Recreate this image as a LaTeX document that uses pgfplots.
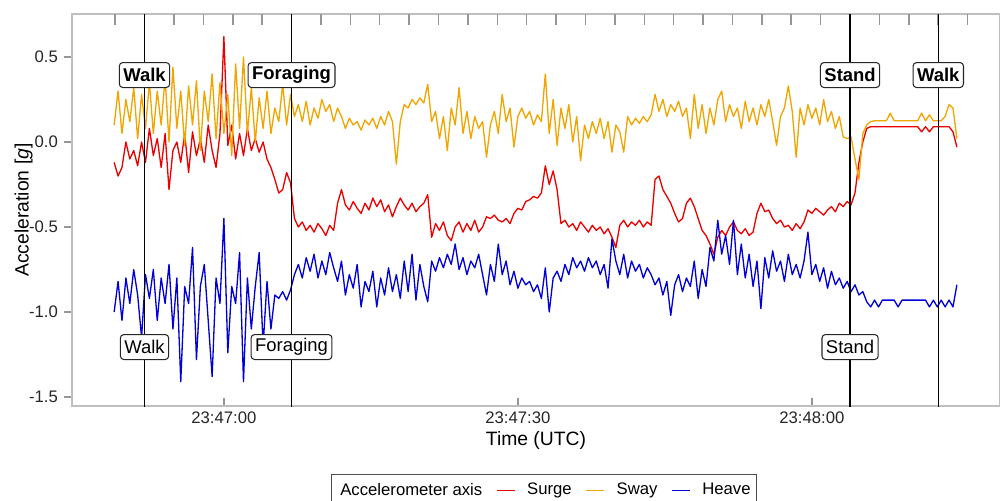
\documentclass[border=0pt]{standalone}
\usepackage{fontspec}
\setmainfont{Liberation Sans}
\usepackage{pgfplots}
\usepackage{pgfplotstable}
\pgfplotsset{compat=1.18}
\definecolor{surge}{RGB}{235,0,0}
\definecolor{sway}{RGB}{240,165,0}
\definecolor{heave}{RGB}{0,0,215}
\definecolor{tickgray}{RGB}{150,150,150}

% time in s after 23:47:00, acceleration in g
\pgfplotstableread{
t surge sway heave
-11.2 -0.12 0.10 -1.00
-10.8 -0.20 0.30 -0.82
-10.4 -0.15 0.05 -1.05
-10.0 0.00 0.25 -0.80
-9.6 -0.10 0.12 -0.95
-9.2 -0.05 0.32 -0.75
-8.8 -0.14 0.02 -0.90
-8.4 0.00 0.28 -1.15
-8.0 -0.12 0.08 -0.78
-7.6 0.08 0.35 -0.92
-7.2 -0.08 0.05 -0.75
-6.8 0.02 0.30 -1.05
-6.4 -0.15 0.10 -0.80
-6.0 0.05 0.38 -0.95
-5.6 -0.28 0.00 -0.72
-5.2 -0.05 0.44 -1.10
-4.8 0.00 0.08 -0.80
-4.4 -0.12 0.30 -1.41
-4.0 0.05 -0.02 -0.85
-3.6 -0.18 0.33 -0.95
-3.2 0.06 0.10 -0.62
-2.8 -0.08 0.36 -1.28
-2.4 0.02 -0.05 -0.85
-2.0 -0.12 0.30 -0.72
-1.6 0.10 0.12 -1.05
-1.2 -0.05 0.40 -1.38
-0.8 -0.15 0.02 -0.80
-0.4 0.05 0.35 -0.95
0.0 0.62 0.05 -0.45
0.4 -0.02 0.28 -1.24
0.8 0.10 -0.08 -0.85
1.2 -0.10 0.46 -0.95
1.6 0.05 0.08 -0.65
2.0 -0.08 0.50 -1.41
2.4 0.08 0.05 -0.80
2.8 -0.05 0.32 -1.10
3.2 0.02 0.00 -0.85
3.6 -0.06 0.26 -0.65
4.0 0.00 0.08 -1.20
4.4 -0.10 0.30 -0.82
4.8 -0.15 0.05 -1.10
5.2 -0.22 0.20 -0.90
5.6 -0.30 0.12 -0.92
6.0 -0.28 0.34 -0.88
6.4 -0.18 0.10 -0.93
6.8 -0.24 0.28 -0.87
7.2 -0.45 0.15 -0.78
7.6 -0.50 0.22 -0.72
8.0 -0.47 0.12 -0.80
8.4 -0.52 0.24 -0.68
8.8 -0.49 0.10 -0.76
9.2 -0.53 0.20 -0.66
9.6 -0.48 0.14 -0.80
10.0 -0.51 0.25 -0.70
10.4 -0.55 0.18 -0.78
10.8 -0.49 0.22 -0.65
11.2 -0.52 0.12 -0.74
11.6 -0.36 0.20 -0.82
12.0 -0.28 0.15 -0.70
12.4 -0.37 0.08 -0.90
12.8 -0.40 0.14 -0.78
13.2 -0.35 0.10 -0.86
13.6 -0.39 0.12 -0.72
14.0 -0.42 0.07 -0.97
14.4 -0.36 0.13 -0.82
14.8 -0.40 0.10 -0.88
15.2 -0.33 0.14 -0.76
15.6 -0.38 0.08 -0.97
16.0 -0.34 0.15 -0.80
16.4 -0.41 0.10 -0.90
16.8 -0.37 0.18 -0.74
17.2 -0.44 0.12 -0.88
17.6 -0.38 -0.13 -0.78
18.0 -0.33 0.12 -0.92
18.4 -0.37 0.22 -0.70
18.8 -0.40 0.20 -0.88
19.2 -0.36 0.25 -0.66
19.6 -0.41 0.22 -0.93
20.0 -0.38 0.26 -0.72
20.4 -0.36 0.23 -0.85
20.8 -0.31 0.34 -0.94
21.2 -0.56 0.12 -0.70
21.6 -0.48 0.18 -0.76
22.0 -0.52 0.02 -0.68
22.4 -0.47 0.15 -0.74
22.8 -0.55 -0.05 -0.66
23.2 -0.58 0.20 -0.72
23.6 -0.50 0.10 -0.60
24.0 -0.47 0.32 -0.75
24.4 -0.53 0.05 -0.68
24.8 -0.48 0.18 -0.78
25.2 -0.52 0.02 -0.70
25.6 -0.46 0.15 -0.74
26.0 -0.53 0.08 -0.66
26.4 -0.50 0.12 -0.78
26.8 -0.44 -0.09 -0.90
27.2 -0.45 0.10 -0.72
27.6 -0.43 0.18 -0.82
28.0 -0.46 0.05 -0.60
28.4 -0.47 0.28 -0.78
28.8 -0.45 0.12 -0.70
29.2 -0.48 0.20 -0.84
29.6 -0.42 -0.03 -0.76
30.0 -0.39 0.15 -0.86
30.4 -0.40 0.20 -0.80
30.8 -0.35 0.14 -0.84
31.2 -0.34 0.18 -0.82
31.6 -0.32 0.10 -0.88
32.0 -0.33 0.16 -0.84
32.4 -0.30 0.12 -0.92
32.8 -0.14 0.40 -0.74
33.2 -0.25 0.05 -1.00
33.6 -0.17 0.25 -0.80
34.0 -0.28 -0.02 -0.76
34.4 -0.48 0.20 -0.82
34.8 -0.46 0.08 -0.72
35.2 -0.50 0.22 -0.78
35.6 -0.48 0.00 -0.68
36.0 -0.52 0.15 -0.74
36.4 -0.47 -0.11 -0.70
36.8 -0.50 0.10 -0.76
37.2 -0.53 0.02 -0.68
37.6 -0.49 0.12 -0.74
38.0 -0.52 0.05 -0.70
38.4 -0.50 0.14 -0.78
38.8 -0.54 0.02 -0.72
39.2 -0.51 0.12 -0.86
39.6 -0.56 -0.06 -0.57
40.0 -0.62 0.10 -0.70
40.4 -0.49 0.06 -0.78
40.8 -0.46 -0.06 -0.66
41.2 -0.50 0.15 -0.80
41.6 -0.47 0.10 -0.70
42.0 -0.49 0.14 -0.76
42.4 -0.46 0.11 -0.72
42.8 -0.50 0.15 -0.80
43.2 -0.47 0.12 -0.74
43.6 -0.49 0.16 -0.78
44.0 -0.22 0.28 -0.84
44.4 -0.20 0.18 -0.80
44.8 -0.28 0.25 -0.90
45.2 -0.32 0.15 -0.82
45.6 -0.36 0.22 -1.02
46.0 -0.42 0.18 -0.84
46.4 -0.47 0.24 -0.78
46.8 -0.45 0.15 -0.88
47.2 -0.36 0.20 -0.80
47.6 -0.33 0.02 -0.85
48.0 -0.38 0.28 -0.70
48.4 -0.45 0.08 -0.92
48.8 -0.52 0.22 -0.75
49.2 -0.55 0.05 -0.85
49.6 -0.60 0.20 -0.62
50.0 -0.66 0.10 -0.70
50.4 -0.56 0.25 -0.46
50.8 -0.52 0.30 -0.66
51.2 -0.55 0.12 -0.55
51.6 -0.50 0.22 -0.72
52.0 -0.47 0.15 -0.46
52.4 -0.52 0.20 -0.78
52.8 -0.54 0.08 -0.60
53.2 -0.51 0.24 -0.80
53.6 -0.55 0.12 -0.66
54.0 -0.53 0.20 -0.85
54.4 -0.42 0.10 -0.70
54.8 -0.36 0.22 -0.98
55.2 -0.41 0.15 -0.68
55.6 -0.40 0.25 -0.80
56.0 -0.45 0.12 -0.64
56.4 -0.48 -0.02 -0.76
56.8 -0.46 0.15 -0.70
57.2 -0.50 0.20 -0.82
57.6 -0.49 0.33 -0.66
58.0 -0.52 0.18 -0.78
58.4 -0.48 -0.09 -0.72
58.8 -0.51 0.20 -0.80
59.2 -0.47 0.10 -0.70
59.6 -0.40 0.22 -0.53
60.0 -0.42 0.14 -0.78
60.4 -0.39 0.20 -0.72
60.8 -0.41 0.10 -0.82
61.2 -0.43 0.25 -0.74
61.6 -0.40 0.12 -0.86
62.0 -0.38 0.18 -0.76
62.4 -0.41 0.08 -0.84
62.8 -0.36 0.15 -0.80
63.2 -0.38 0.03 -0.86
63.6 -0.35 0.02 -0.82
64.0 -0.37 0.03 -0.88
64.4 -0.30 -0.10 -0.84
64.8 -0.12 -0.22 -0.90
65.2 0.00 0.05 -0.88
65.6 0.08 0.10 -0.94
66.0 0.09 0.12 -0.97
66.4 0.09 0.125 -0.93
66.8 0.09 0.125 -0.97
67.2 0.09 0.125 -0.93
67.6 0.09 0.125 -0.93
68.0 0.09 0.17 -0.93
68.4 0.09 0.125 -0.93
68.8 0.09 0.125 -0.97
69.2 0.09 0.125 -0.93
69.6 0.09 0.125 -0.93
70.0 0.09 0.125 -0.93
70.4 0.09 0.125 -0.93
70.8 0.09 0.125 -0.93
71.2 0.06 0.17 -0.93
71.6 0.09 0.125 -0.93
72.0 0.06 0.16 -0.97
72.4 0.09 0.125 -0.93
72.8 0.09 0.125 -0.97
73.2 0.09 0.125 -0.93
73.6 0.09 0.15 -0.97
74.0 0.09 0.22 -0.93
74.4 0.06 0.20 -0.97
74.8 -0.03 0.02 -0.84
}\acc

\tikzset{
  evt/.style={draw=black!85, fill=white, rounded corners=2pt, line width=0.6pt,
    inner xsep=0.08cm, inner ysep=0pt, minimum height=0.5cm,
    font=\fontsize{10.5}{12}\selectfont},
}

\begin{document}
\begin{tikzpicture}
\begin{axis}[name=ax, scale only axis,
  width=18.56cm, height=7.84cm,
  xmin=-15.5, xmax=79.2, ymin=-1.553, ymax=0.753,
  axis line style={black!25, line width=0.6pt},
  xtick={0,30,60}, xticklabels={23:47:00,23:47:30,23:48:00},
  ytick={-1.5,-1,-0.5,0,0.5}, yticklabels={-1.5,-1.0,-0.5,0.0,0.5},
  xtick pos=left, ytick pos=left,
  xtick align=inside, ytick align=outside,
  major tick length=0.16cm,
  tick style={tickgray, line width=0.9pt},
  tick label style={font=\fontsize{9.5}{11}\selectfont, text=black!85},
  xlabel={Time (UTC)}, ylabel={Acceleration [\textit{g}]},
  label style={font=\fontsize{11}{13}\selectfont},
  xlabel style={at={(axis description cs:0.5,-0.087)}, anchor=center},
  ylabel style={at={(axis description cs:-0.052,0.5)}, anchor=center},
  legend columns=4,
  legend cell align=left,
  legend image code/.code={\draw[#1, line width=0.8pt] (0cm,0cm) -- (0.37cm,0cm); \path (0.47cm,0cm);},
  legend style={at={(axis description cs:0.5086,-0.1735)}, anchor=north,
    draw=black!70, line width=0.6pt, font=\fontsize{9.5}{11}\selectfont,
    inner xsep=0.04cm, inner ysep=0.1cm,
    /tikz/every odd column/.append style={column sep=0.06cm},
    /tikz/every even column/.append style={column sep=0.2cm}},
]
\addlegendimage{empty legend}
\addlegendentry{Accelerometer axis}
\addplot[surge, line width=0.75pt, line join=round] table[x=t, y=surge] {\acc};
\addlegendentry{Surge}
\addplot[sway, line width=0.75pt, line join=round] table[x=t, y=sway] {\acc};
\addlegendentry{Sway}
\addplot[heave, line width=0.75pt, line join=round] table[x=t, y=heave] {\acc};
\addlegendentry{Heave}

% 3 s ticks along the top edge
\pgfplotsinvokeforeach{-11.1,-8.1,-5.1,-2.1,0.9,3.9,6.9,9.9,12.9,15.9,18.9,21.9,24.9,27.9,30.9,33.9,36.9,39.9,42.9,45.9,48.9,51.9,54.9,57.9,60.9,63.9,66.9,69.9,72.9,75.9}{
  \draw[tickgray, line width=0.9pt] (axis cs:#1,0.753) -- (axis cs:#1,0.690);
}

% behaviour changes
\addplot[black, line width=0.7pt, forget plot] coordinates {(-8.1,-1.6) (-8.1,0.8)};
\addplot[black, line width=0.7pt, forget plot] coordinates {(6.9,-1.6) (6.9,0.8)};
\addplot[black, line width=0.7pt, forget plot] coordinates {(63.9,-1.6) (63.9,0.8)};
\addplot[black, line width=0.7pt, forget plot] coordinates {(72.9,-1.6) (72.9,0.8)};

\node[evt, font=\fontsize{10.5}{12}\selectfont\bfseries] at (axis cs:-8.1,0.394) {Walk};
\node[evt, font=\fontsize{10.5}{12}\selectfont\bfseries] at (axis cs:6.9,0.394) {Foraging};
\node[evt, font=\fontsize{10.5}{12}\selectfont\bfseries] at (axis cs:63.9,0.394) {Stand};
\node[evt, font=\fontsize{10.5}{12}\selectfont\bfseries] at (axis cs:72.9,0.394) {Walk};
\node[evt] at (axis cs:-8.1,-1.206) {Walk};
\node[evt] at (axis cs:6.9,-1.206) {Foraging};
\node[evt] at (axis cs:63.9,-1.206) {Stand};
\end{axis}

\pgfresetboundingbox
\path[use as bounding box] ([xshift=-1.44cm,yshift=-1.88cm]ax.south west) rectangle ([yshift=0.28cm]ax.north east);
\end{tikzpicture}
\end{document}
